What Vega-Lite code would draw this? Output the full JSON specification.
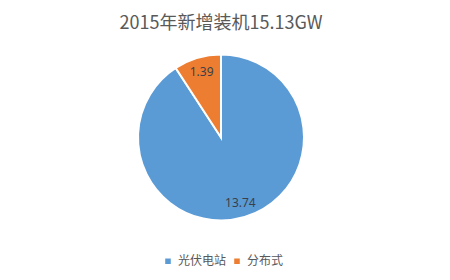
{
  "$schema": "https://vega.github.io/schema/vega-lite/v6.json",
  "autosize": "none",
  "padding": 0,
  "width": 442,
  "height": 275,
  "background": "white",
  "title": {
    "text": "2015年新增装机15.13GW",
    "font": "Noto Sans CJK SC",
    "fontSize": 18,
    "fontWeight": "normal",
    "color": "#595959",
    "anchor": "middle",
    "offset": -33
  },
  "data": {
    "values": [
      {"type": "光伏电站", "value": 13.74, "rank": 1},
      {"type": "分布式", "value": 1.39, "rank": 2}
    ]
  },
  "encoding": {
    "theta": {"field": "value", "type": "quantitative", "stack": true},
    "order": {"field": "rank", "type": "quantitative"}
  },
  "layer": [
    {
      "mark": {"type": "arc", "outerRadius": 83, "stroke": "white", "strokeWidth": 2},
      "encoding": {
        "color": {
          "field": "type",
          "type": "nominal",
          "scale": {"domain": ["光伏电站", "分布式"], "range": ["#5B9BD5", "#ED7D31"]},
          "legend": {
            "title": null,
            "orient": "none",
            "direction": "horizontal",
            "legendX": 162,
            "legendY": 255,
            "symbolType": "square",
            "symbolSize": 50,
            "labelFont": "Noto Sans CJK SC",
            "labelFontSize": 12,
            "labelColor": "#595959",
            "columnPadding": 3,
            "labelOffset": 4
          }
        }
      }
    },
    {
      "mark": {"type": "text", "radius": 68, "font": "Noto Sans", "fontSize": 12, "color": "#3a3f4a"},
      "encoding": {
        "text": {"field": "value", "type": "quantitative", "format": ".2f"}
      }
    }
  ],
  "config": {"view": {"stroke": null}}
}
